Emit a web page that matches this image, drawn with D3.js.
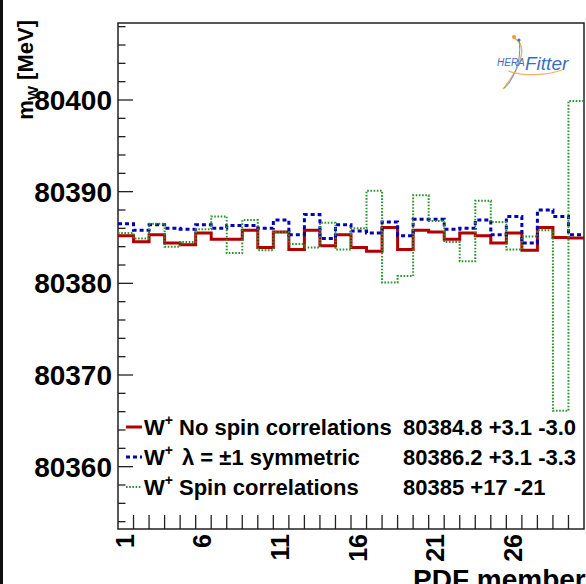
<!DOCTYPE html>
<html>
<head>
<meta charset="utf-8">
<script src="https://cdn.jsdelivr.net/npm/d3@7/dist/d3.min.js"></script>
<style>
  html, body { margin: 0; padding: 0; background: #fff; }
  svg { display: block; font-family: "Liberation Sans", Arial, sans-serif; }
</style>
</head>
<body>
<svg id="chart" width="586" height="584"></svg>
<script>
// ---- data ----
const members = [1,2,3,4,5,6,7,8,9,10,11,12,13,14,15,16,17,18,19,20,21,22,23,24,25,26,27,28,29,30];
const noSpin = [80385.2,80384.55,80385.3,80384.4,80384.2,80385.5,80384.8,80384.8,80385.8,80383.9,
                80385.6,80383.7,80385.8,80384.1,80385.3,80383.9,80383.5,80386.1,80383.7,80385.8,
                80385.6,80384.8,80385.5,80385.2,80384.4,80385.5,80383.6,80386.1,80385.0,80384.95];
const symmetric = [80386.5,80385.8,80386.4,80386.0,80385.9,80386.4,80386.0,80386.3,80386.3,80386.0,
                   80386.9,80385.3,80387.5,80384.9,80386.4,80385.7,80385.5,80386.7,80385.2,80387.0,
                   80387.0,80385.9,80386.0,80386.9,80385.3,80387.3,80384.4,80388.0,80387.3,80385.3];
const spinCorr = [80385.5,80384.9,80386.5,80384.0,80384.5,80385.9,80387.3,80383.3,80386.9,80383.6,
                  80385.6,80384.3,80383.9,80386.6,80383.7,80386.0,80390.1,80380.1,80380.8,80389.6,
                  80386.8,80384.5,80382.4,80389.0,80386.7,80383.7,80385.1,80385.8,80366.1,80399.9];
const xTickLabels = ["1","6","11","16","21","26"];
const yTickValues = [80360,80370,80380,80390,80400];
const seriesNames = ["No spin correlations", "\u03BB = \u00B11 symmetric", "Spin correlations"];
const seriesResults = ["80384.8 +3.1 -3.0", "80386.2 +3.1 -3.3", "80385 +17 -21"];

// ---- layout ----
const L = 118, R = 584, T = 23, B = 529;
const svg = d3.select("#chart");

// left dark border of the picture
svg.append("rect").attr("x",0).attr("y",0).attr("width",3).attr("height",584).attr("fill","#111");

const x = d3.scaleLinear().domain([0.5, 30.5]).range([L, R]);
const y = d3.scaleLinear().domain([80353.2, 80408.4]).range([B, T]);

// frame
svg.append("rect").attr("x",L).attr("y",T).attr("width",R-L).attr("height",B-T)
  .attr("fill","none").attr("stroke","#222").attr("stroke-width",1.5);

// y axis: ticks inside
const yMinor = d3.range(80354, 80409, 2);
const yAx = svg.append("g");
yAx.selectAll("line.minor").data(yMinor).join("line")
  .attr("x1", L).attr("x2", d => (d % 10 === 0 ? L + 15 : L + 7.5))
  .attr("y1", d => y(d)).attr("y2", d => y(d))
  .attr("stroke","#222").attr("stroke-width",1.3);
yAx.selectAll("text").data(yTickValues).join("text")
  .attr("x", L - 6).attr("y", d => y(d)).attr("dy","0.36em")
  .attr("text-anchor","end").attr("font-size",28).attr("font-weight","bold")
  .attr("fill","#000").text(d => d);

// x axis: ticks at bin edges
const xEdges = d3.range(1, 30).map(i => i + 0.5);
svg.append("g").selectAll("line").data(xEdges).join("line")
  .attr("x1", d => x(d)).attr("x2", d => x(d))
  .attr("y1", B).attr("y2", B - 14)
  .attr("stroke","#222").attr("stroke-width",1.3);
svg.append("g").selectAll("text").data(xTickLabels).join("text")
  .attr("transform", d => `translate(${x(+d) + 8},${B + 5}) rotate(-90)`)
  .attr("text-anchor","end").attr("font-size",25).attr("font-weight","bold")
  .attr("fill","#000").text(d => d);

// axis titles
svg.append("text").attr("x", 413).attr("y", 589)
  .attr("font-size",28).attr("font-weight","bold").text("PDF member");
const yt = svg.append("text")
  .attr("transform","translate(33,20) rotate(-90)")
  .attr("text-anchor","end").attr("font-size",22).attr("font-weight","bold");
yt.append("tspan").text("m");
yt.append("tspan").attr("font-size",15).attr("dy",5).text("W");
yt.append("tspan").attr("dy",-5).text(" [MeV]");

// histograms
svg.append("clipPath").attr("id","plotclip")
  .append("rect").attr("x",L).attr("y",T).attr("width",R-L).attr("height",B-T);

function stepPoints(vals) {
  const pts = members.map((m, i) => [x(m - 0.5), y(vals[i])]);
  pts.push([x(members[members.length-1] + 0.5), y(vals[vals.length-1])]);
  return pts;
}
const stepLine = d3.line().curve(d3.curveStepAfter);
const styles = [
  {vals: noSpin, color: "#b00000", width: 3, dash: null},
  {vals: symmetric, color: "#0000b4", width: 3, dash: "4,3"},
  {vals: spinCorr, color: "#2a922a", width: 2, dash: "1.6,1.6"}
];
const plot = svg.append("g").attr("clip-path","url(#plotclip)");
styles.forEach(s => {
  plot.append("path").attr("d", stepLine(stepPoints(s.vals)))
    .attr("fill","none").attr("stroke", s.color).attr("stroke-width", s.width)
    .attr("stroke-dasharray", s.dash);
});

// legend
const legY = [427, 457, 487];
styles.forEach((s, i) => {
  const g = svg.append("g");
  g.append("line").attr("x1",126).attr("x2",142).attr("y1",legY[i]).attr("y2",legY[i])
    .attr("stroke", s.color).attr("stroke-width", s.width).attr("stroke-dasharray", s.dash);
  const t = g.append("text").attr("x",144).attr("y",legY[i] + 8)
    .attr("font-size",22).attr("font-weight","bold").attr("fill","#000");
  t.append("tspan").text("W");
  t.append("tspan").attr("font-size",14).attr("dy",-10).text("+");
  t.append("tspan").attr("x", i === 1 ? 182 : 179).attr("dy",10).text(seriesNames[i]);
  g.append("text").attr("x",403).attr("y",legY[i] + 8)
    .attr("font-size",22).attr("font-weight","bold").attr("fill","#000").text(seriesResults[i]);
});

// HERAFitter logo
const logo = svg.append("g");
logo.append("path").attr("d","M514,38 C526,44 522,58 516,70 C510,80 506,86 503,89")
  .attr("fill","none").attr("stroke","#f2b15c").attr("stroke-width",1.4);
logo.append("path").attr("d","M519,40 C521,52 519,66 512,78 C509,84 506,87 504,88")
  .attr("fill","none").attr("stroke","#5b8fd6").attr("stroke-width",1);
logo.append("path").attr("d","M508,71 C525,77 548,75 562,70")
  .attr("fill","none").attr("stroke","#f2b15c").attr("stroke-width",1.2);
logo.append("circle").attr("cx",514).attr("cy",37).attr("r",2).attr("fill","#f29a2e");
logo.append("circle").attr("cx",519).attr("cy",40).attr("r",1.6).attr("fill","#3a73c8");
logo.append("text").attr("x",497).attr("y",66).attr("font-size",10)
  .attr("font-style","italic").attr("fill","#3a6fc4").text("HERA");
logo.append("text").attr("x",525).attr("y",70).attr("font-size",19)
  .attr("font-style","italic").attr("fill","#3a6fc4").text("Fitter");
</script>
</body>
</html>
